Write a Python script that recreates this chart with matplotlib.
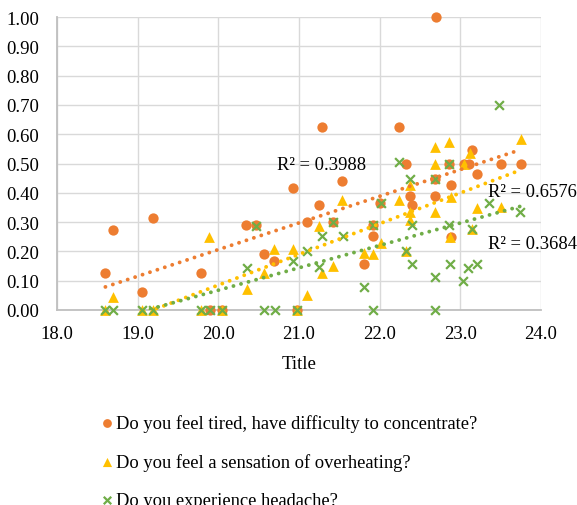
import numpy as np
import matplotlib
matplotlib.use("Agg")
from matplotlib import pyplot as plt
from matplotlib.ticker import FormatStrFormatter

plt.rcParams['font.family'] = ['Liberation Serif', 'DejaVu Serif']

# series 1: tired / difficulty to concentrate
tired_x = [18.60, 18.69, 19.05, 19.19, 19.78, 19.90, 20.05, 20.34, 20.47, 20.57,
           20.69, 20.93, 20.98, 21.10, 21.25, 21.285, 21.42, 21.53, 21.80, 21.92,
           21.92, 22.01, 22.245, 22.33, 22.38, 22.40, 22.68, 22.69, 22.70, 22.86,
           22.89, 22.89, 23.04, 23.11, 23.14, 23.21, 23.50, 23.75]
tired_y = [0.125, 0.273, 0.0625, 0.3125, 0.125, 0.0, 0.0, 0.289, 0.289, 0.19,
           0.167, 0.418, 0.0, 0.30, 0.357, 0.625, 0.30, 0.44, 0.157, 0.253,
           0.289, 0.365, 0.625, 0.50, 0.39, 0.357, 0.446, 0.39, 1.0, 0.50,
           0.425, 0.25, 0.50, 0.50, 0.547, 0.463, 0.50, 0.50]

# series 2: overheating
heat_x = [18.60, 18.69, 19.05, 19.19, 19.78, 19.89, 20.05, 20.35, 20.56, 20.69,
          20.93, 20.98, 21.10, 21.25, 21.29, 21.42, 21.53, 21.80, 21.92, 22.02,
          22.24, 22.33, 22.38, 22.38, 22.38, 22.68, 22.68, 22.68, 22.86, 22.89,
          22.87, 23.04, 23.12, 23.14, 23.21, 23.50, 23.75]
heat_y = [0.0, 0.043, 0.0, 0.0, 0.0, 0.25, 0.0, 0.073, 0.125, 0.209,
          0.209, 0.0, 0.05, 0.287, 0.125, 0.15, 0.377, 0.195, 0.19, 0.228,
          0.377, 0.20, 0.428, 0.334, 0.306, 0.556, 0.50, 0.334, 0.573, 0.386,
          0.25, 0.50, 0.536, 0.277, 0.349, 0.35, 0.585]

# series 3: headache
head_x = [18.60, 18.69, 19.05, 19.19, 19.79, 19.90, 20.05, 20.35, 20.47, 20.57,
          20.70, 20.93, 20.98, 21.10, 21.25, 21.29, 21.42, 21.54, 21.80, 21.92,
          21.92, 22.02, 22.245, 22.33, 22.38, 22.40, 22.40, 22.68, 22.69, 22.69,
          22.86, 22.86, 22.87, 23.03, 23.09, 23.14, 23.21, 23.35, 23.48, 23.74]
head_y = [0.0, 0.0, 0.0, 0.0, 0.0, 0.0, 0.0, 0.143, 0.288, 0.0,
          0.0, 0.167, 0.0, 0.203, 0.147, 0.253, 0.302, 0.253, 0.078, 0.289,
          0.0, 0.365, 0.505, 0.20, 0.448, 0.289, 0.157, 0.446, 0.113, 0.0,
          0.50, 0.289, 0.157, 0.10, 0.143, 0.277, 0.156, 0.365, 0.70, 0.335]

labels = ["Do you feel tired, have difficulty to concentrate?",
          "Do you feel a sensation of overheating?",
          "Do you experience headache?"]
r2_text = ["R\u00b2 = 0.3988", "R\u00b2 = 0.6576", "R\u00b2 = 0.3684"]

orange = "#ED7D31"
yellow = "#FFC000"
green = "#70AD47"

fig = plt.figure(figsize=(5.77, 5.06), dpi=100)
ax = fig.add_axes([0.0988, 0.3854, 0.8388, 0.579])

h1 = ax.scatter(tired_x, tired_y, s=55, marker='o', color=orange, lw=0, clip_on=False, zorder=3)
h2 = ax.scatter(heat_x, heat_y, s=60, marker='^', color=yellow, lw=0, clip_on=False, zorder=3)
h3 = ax.scatter(head_x, head_y, s=40, marker='x', color=green, lw=1.6, clip_on=False, zorder=3)

# linear trend lines
for xs, ys, c in [(tired_x, tired_y, orange), (heat_x, heat_y, yellow), (head_x, head_y, green)]:
    xs = np.array(xs)
    k, b = np.polyfit(xs, np.array(ys), 1)
    xx = np.linspace(xs.min(), xs.max(), 50)
    ax.plot(xx, k * xx + b, color=c, lw=2.8, linestyle=(0, (0.01, 2.0)),
            dash_capstyle='round', zorder=4)

ax.set_xlim(18, 24)
ax.set_ylim(0, 1)
ax.set_xticks(np.arange(18, 24.5, 1.0))
ax.set_yticks(np.arange(0, 1.05, 0.1))
ax.xaxis.set_major_formatter(FormatStrFormatter('%.1f'))
ax.yaxis.set_major_formatter(FormatStrFormatter('%.2f'))
ax.tick_params(length=0, labelsize=13.5)
ax.tick_params(axis='y', pad=13)
ax.tick_params(axis='x', pad=10.5)
ax.grid(True, color='#D9D9D9', lw=1.0)
ax.set_axisbelow(True)
for side in ['top', 'right']:
    ax.spines[side].set_visible(False)
ax.spines['left'].set_color('#BFBFBF')
ax.spines['bottom'].set_color('#BFBFBF')
ax.spines['left'].set_linewidth(1.3)
ax.spines['bottom'].set_linewidth(1.3)
ax.set_xlabel("Title", fontsize=13.5, labelpad=10)

ax.text(20.73, 0.496, r2_text[0], fontsize=13.4, va='center', ha='left', clip_on=False)
ax.text(23.34, 0.404, r2_text[1], fontsize=13.4, va='center', ha='left', clip_on=False)
ax.text(23.34, 0.226, r2_text[2], fontsize=13.4, va='center', ha='left', clip_on=False)

fig.legend([h1, h2, h3], labels, loc='upper left', bbox_to_anchor=(0.172, 0.180),
           frameon=False, fontsize=13.3, markerscale=0.85, handlelength=0.8,
           handletextpad=0.12, labelspacing=1.15, borderpad=0, borderaxespad=0)

fig.savefig("out.png", dpi=100)
